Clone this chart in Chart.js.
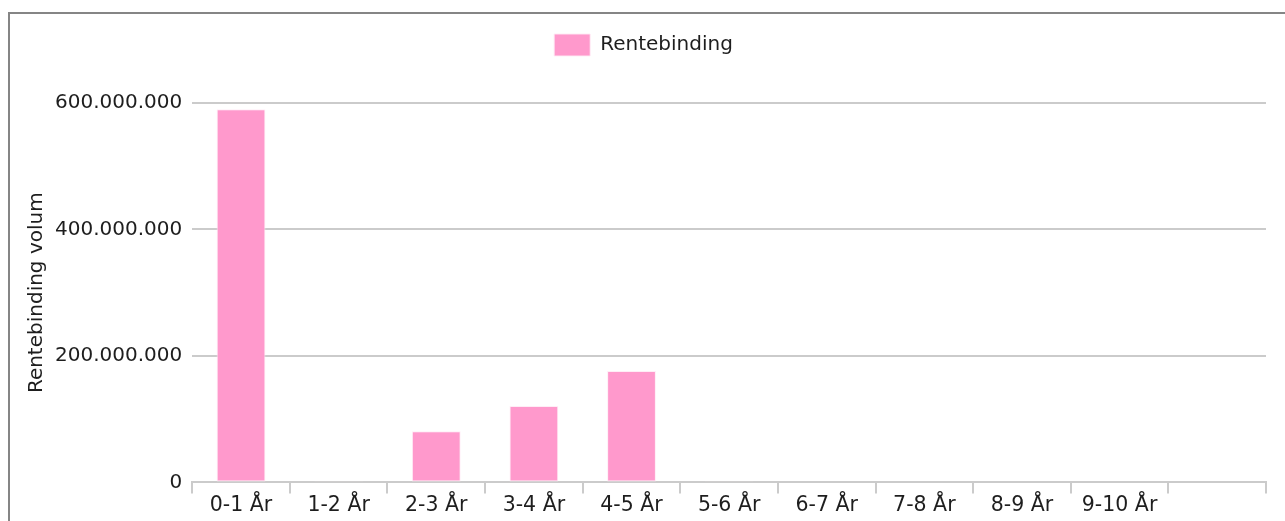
<!DOCTYPE html>
<html>
<head>
<meta charset="utf-8">
<script src="https://cdn.jsdelivr.net/npm/chart.js@4"></script>
<style>
  body { margin: 0; background: #fff; overflow: hidden; }
  #frame {
    position: absolute;
    left: 8px;
    top: 12px;
    width: 1290px;
    height: 560px;
    border: 2px solid #858585;
  }
  #wrap { position: relative; width: 1275px; height: 520px; }
</style>
</head>
<body>
<div id="frame">
  <div id="wrap"><canvas id="rentebinding"></canvas></div>
</div>
<script>
// Data
const categories = [
  "0-1 År", "1-2 År", "2-3 År", "3-4 År", "4-5 År",
  "5-6 År", "6-7 År", "7-8 År", "8-9 År", "9-10 År", ""
];
const volumes = [
  590000000, 1000000, 81000000, 121000000, 176000000,
  1000000, 0, 0, 0, 0, null
];
const seriesName = "Rentebinding";
const axisTitle = "Rentebinding volum";

const FONT = "'DejaVu Sans', sans-serif";
const TEXT = "#1e1e1e";
const GRID = "#cbcbcb";

// norsk tusenskille med punktum
function formatNo(value) {
  return String(Math.round(value)).replace(/\B(?=(\d{3})+(?!\d))/g, ".");
}

// ekstra luft under legenden
const legendSpace = {
  id: "legendSpace",
  beforeInit(chart) {
    const fit = chart.legend.fit;
    chart.legend.fit = function () {
      fit.bind(chart.legend)();
      this.height += 37;
    };
  },
};

Chart.defaults.font.family = FONT;
Chart.defaults.color = TEXT;

const ctx = document.getElementById("rentebinding");

new Chart(ctx, {
  type: "bar",
  data: {
    labels: categories,
    datasets: [
      {
        label: seriesName,
        data: volumes,
        backgroundColor: "#ff99cc",
        borderColor: "rgba(255, 235, 245, 0.9)",
        borderWidth: 1,
        borderSkipped: false,
        barPercentage: 0.5,
        categoryPercentage: 1,
      },
    ],
  },
  plugins: [legendSpace],
  options: {
    responsive: true,
    maintainAspectRatio: false,
    animation: false,
    layout: {
      padding: { top: 10, left: 11, right: 19, bottom: 16 },
    },
    plugins: {
      tooltip: { enabled: false },
      legend: {
        position: "top",
        labels: {
          boxWidth: 36,
          boxHeight: 22,
          padding: 10,
          color: TEXT,
          font: { size: 20 },
        },
      },
    },
    scales: {
      x: {
        grid: {
          offset: true,
          drawOnChartArea: false,
          drawTicks: true,
          tickLength: 11,
          color: GRID,
          lineWidth: 2,
        },
        border: { display: true, color: GRID, width: 2 },
        ticks: {
          color: TEXT,
          font: { size: 20.5 },
          padding: 0,
          maxRotation: 0,
          autoSkip: false,
        },
      },
      y: {
        min: 0,
        max: 600000000,
        grid: {
          color: GRID,
          lineWidth: 2,
          drawTicks: false,
        },
        border: { display: false },
        ticks: {
          stepSize: 200000000,
          color: TEXT,
          font: { size: 20 },
          padding: 10,
          callback: (value) => formatNo(value),
        },
        title: {
          display: true,
          text: axisTitle,
          color: TEXT,
          font: { size: 20 },
          padding: { top: 4, bottom: -4 },
        },
      },
    },
  },
});
</script>
</body>
</html>
